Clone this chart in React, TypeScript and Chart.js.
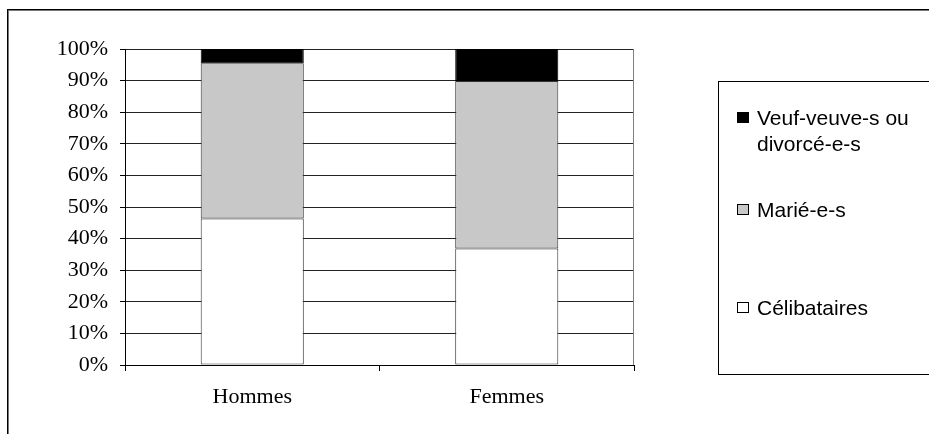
import React, { useEffect, useRef } from 'react';
import { Chart, registerables } from 'chart.js';

Chart.register(...registerables);

const categories = ['Hommes', 'Femmes'];
const celibataires = [46.4, 36.9];
const maries = [49.1, 53.0];
const veufsDivorces = [4.5, 10.1];
const seriesLabels = ['Célibataires', 'Marié-e-s', 'Veuf-veuve-s ou divorcé-e-s'];
const seriesColors = ['#FFFFFF', '#C8C8C8', '#000000'];
const yTickSuffix = '%';

const framePlugin = {
  id: 'frameAndLegend',
  beforeDraw(chart: any) {
    const ctx = chart.ctx;
    const w = chart.width;
    const h = chart.height;
    ctx.save();
    ctx.fillStyle = '#ffffff';
    ctx.fillRect(0, 0, w, h);
    ctx.fillStyle = '#000000';
    ctx.fillRect(8, 9, w - 8, 1);
    ctx.fillStyle = '#777777';
    ctx.fillRect(8, 10, w - 8, 1);
    ctx.fillStyle = '#000000';
    ctx.fillRect(7, 9, 1, h - 9);
    ctx.fillStyle = '#777777';
    ctx.fillRect(8, 10, 1, h - 10);
    ctx.restore();
  },
  afterDraw(chart: any) {
    const ctx = chart.ctx;
    const { right, top, bottom } = chart.chartArea;
    ctx.save();
    ctx.fillStyle = '#808080';
    ctx.fillRect(Math.round(right) - 1, top, 1, bottom - top);

    // legend box
    ctx.strokeStyle = '#000000';
    ctx.lineWidth = 1;
    ctx.strokeRect(718.5, 81.5, 400, 293);

    const datasets = chart.data.datasets.slice().reverse();
    const baselines = [125, 217, 315];
    ctx.font = '21px "Liberation Sans", Arial, sans-serif';
    ctx.textBaseline = 'alphabetic';
    ctx.textAlign = 'left';
    const maxW = 165;
    datasets.forEach((ds: any, i: number) => {
      const by = baselines[i];
      ctx.fillStyle = ds.backgroundColor;
      ctx.fillRect(737, by - 13, 12, 11);
      ctx.strokeStyle = '#000000';
      ctx.strokeRect(737.5, by - 12.5, 11, 10);
      const words = String(ds.label).split(' ');
      const lines: string[] = [];
      let cur = '';
      words.forEach((wd) => {
        const test = cur ? cur + ' ' + wd : wd;
        if (cur && ctx.measureText(test).width > maxW) {
          lines.push(cur);
          cur = wd;
        } else {
          cur = test;
        }
      });
      if (cur) lines.push(cur);
      ctx.fillStyle = '#000000';
      lines.forEach((ln, j) => {
        ctx.fillText(ln, 757, by + j * 26);
      });
    });
    ctx.restore();
  },
};

export default function App() {
  const ref = useRef<HTMLCanvasElement | null>(null);
  useEffect(() => {
    if (!ref.current) return;
    const serif = '"Liberation Serif", "Times New Roman", serif';
    const chart = new Chart(ref.current, {
      type: 'bar',
      data: {
        labels: categories,
        datasets: [
          { label: seriesLabels[0], data: celibataires, backgroundColor: seriesColors[0], borderColor: '#333333', borderWidth: 1, borderSkipped: false },
          { label: seriesLabels[1], data: maries, backgroundColor: seriesColors[1], borderColor: '#333333', borderWidth: 1, borderSkipped: false },
          { label: seriesLabels[2], data: veufsDivorces, backgroundColor: seriesColors[2], borderColor: '#000000', borderWidth: 1, borderSkipped: false },
        ],
      },
      options: {
        responsive: false,
        animation: false,
        layout: { padding: { left: 0, top: 49, right: 295, bottom: 0 } },
        plugins: { legend: { display: false }, tooltip: { enabled: false } },
        datasets: { bar: { categoryPercentage: 0.405, barPercentage: 1 } },
        scales: {
          x: {
            stacked: true,
            grid: { drawOnChartArea: false, drawTicks: true, tickLength: 6, color: '#000000', tickColor: '#000000' },
            border: { display: true, color: '#000000' },
            ticks: { color: '#000000', font: { family: serif, size: 22 }, padding: 13 },
            afterFit: (s: any) => { s.height = 69; },
          },
          y: {
            stacked: true,
            min: 0,
            max: 100,
            ticks: {
              stepSize: 10,
              color: '#000000',
              font: { family: serif, size: 22 },
              padding: 12,
              callback: (v: any) => v + yTickSuffix,
            },
            grid: { color: '#222222', tickLength: 5, tickColor: '#000000' },
            border: { display: true, color: '#000000' },
            afterFit: (s: any) => { s.width = 125; },
          },
        },
      },
      plugins: [framePlugin],
    } as any);
    return () => chart.destroy();
  }, []);
  return (
    <canvas
      ref={ref}
      width={929}
      height={434}
      style={{ position: 'fixed', left: 0, top: 0, display: 'block' }}
    />
  );
}
